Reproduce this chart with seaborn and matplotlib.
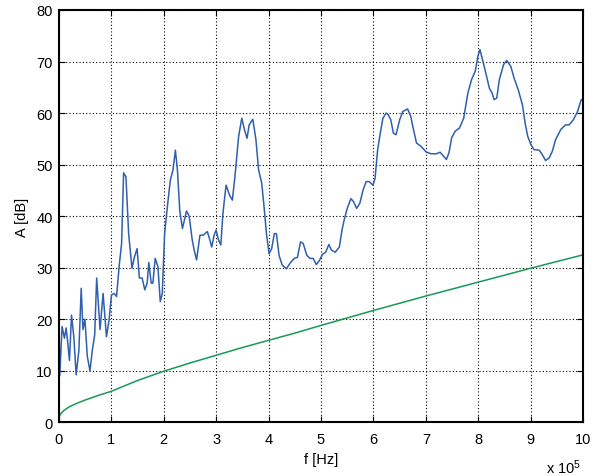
import numpy as np
import pandas as pd
import matplotlib
matplotlib.use("Agg")
import matplotlib.pyplot as plt
import seaborn as sns

# spectrum (blue), x in units of 1e5 Hz
spec_f = [0.0, 0.02, 0.064, 0.109, 0.141, 0.167, 0.205, 0.244, 0.288, 0.333,
          0.385, 0.429, 0.462, 0.5, 0.545, 0.596, 0.641, 0.686, 0.724, 0.788,
          0.846, 0.91, 0.962, 1.006, 1.058, 1.103, 1.154, 1.199, 1.237, 1.282,
          1.333, 1.397, 1.442, 1.494, 1.538, 1.59, 1.641, 1.686, 1.718, 1.763,
          1.795, 1.84, 1.891, 1.936, 1.974, 2.019, 2.071, 2.128, 2.179, 2.224,
          2.263, 2.308, 2.359, 2.436, 2.487, 2.545, 2.583, 2.628, 2.692, 2.756,
          2.833, 2.872, 2.917, 2.962, 3.0, 3.045, 3.09,
          3.13, 3.19, 3.26, 3.31, 3.36, 3.43, 3.49, 3.54, 3.59, 3.63,
          3.70, 3.76, 3.81, 3.87, 3.92, 3.96, 4.01, 4.06, 4.11, 4.15,
          4.20, 4.26, 4.34, 4.42, 4.49, 4.55, 4.61, 4.66, 4.73, 4.79,
          4.85, 4.91, 4.97, 5.03, 5.09, 5.15, 5.20, 5.27, 5.35, 5.40,
          5.44, 5.50, 5.57, 5.62, 5.68, 5.74, 5.80, 5.86, 5.92, 5.99,
          6.03, 6.08, 6.13, 6.18, 6.24, 6.28, 6.33, 6.38, 6.43,
          6.50, 6.56, 6.65, 6.71, 6.75, 6.82, 6.91, 7.01, 7.10, 7.20,
          7.27, 7.34, 7.39, 7.44, 7.49, 7.56, 7.64, 7.72, 7.80, 7.87,
          7.94, 7.99, 8.03, 8.08, 8.15, 8.21, 8.26, 8.30, 8.35, 8.40,
          8.48, 8.54, 8.62, 8.68, 8.76, 8.84, 8.89, 8.94, 9.00, 9.06,
          9.16, 9.22, 9.28, 9.35, 9.41, 9.47, 9.57, 9.66, 9.73, 9.81,
          9.89, 9.96, 10.0]
spec_a = [23, 9, 18.6, 16.3, 18.3, 16, 12, 20.8, 16.6, 9.2,
          14, 26, 18, 20, 12.8, 10, 14, 17, 28, 18,
          25, 16.6, 20, 24.7, 25, 24.4, 30.5, 34.7, 48.4, 47.6,
          36.6, 29.9, 32, 33.7, 28, 28, 25.7, 27, 31, 27,
          27, 31.8, 30.2, 23.4, 25, 36.6, 41.8, 47, 49, 52.8,
          49, 41, 37.6, 41, 40, 35.4, 33.4, 31.5, 36.3, 36.3,
          37, 35.7, 34, 36.3, 37.3, 35.4, 34.4,
          40.5, 46, 44, 43.1, 47.7, 55.5, 59, 56.8, 55.1, 57.7,
          58.8, 54.8, 49, 46.4, 41.2, 36.6, 32.7, 33.7, 36.6, 36.6,
          32.4, 30.5, 29.8, 31, 31.8, 32, 35, 34.7, 32.4, 31.8,
          31.8, 30.6, 31.4, 32.6, 33, 34.5, 33.4, 33, 34, 37.3,
          39.2, 41.5, 43.4, 42.8, 41.5, 42.5, 45, 46.7, 46.7, 46,
          47.3, 52.9, 56.1, 59, 60, 59.7, 58.7, 56.1, 55.8,
          58.7, 60.3, 60.8, 59.4, 57.4, 54.2, 53.5, 52.4, 52.1, 52.1,
          52.4, 51.6, 51, 52.3, 55.2, 56.5, 57.1, 59, 63.9, 66.5,
          68.1, 71, 72.3, 70.3, 67.4, 64.8, 63.9, 62.6, 62.9, 66.5,
          69.4, 70.2, 69, 66.8, 64.5, 61.6, 58.1, 55.5, 53.9, 52.9,
          52.8, 51.9, 50.8, 51.3, 52.6, 54.8, 56.8, 57.7, 57.7, 58.7,
          60.3, 62.6, 62.7]

# threshold curve (green)
thr_f = [0.0, 0.05, 0.1, 0.2, 0.35, 0.5, 0.75, 1.0, 1.5, 2.0, 2.5, 3.0,
         3.5, 4.0, 4.5, 5.0, 6.0, 7.0, 8.0, 9.0, 10.0]
thr_a = [1.0, 1.8, 2.3, 3.0, 3.7, 4.3, 5.2, 6.0, 8.1, 9.9, 11.5, 13.0,
         14.5, 15.9, 17.3, 18.8, 21.7, 24.5, 27.2, 29.9, 32.5]

sns.set_theme(style="white")
plt.rcParams["font.family"] = ["Liberation Sans", "DejaVu Sans"]
plt.rcParams["mathtext.fontset"] = "custom"
plt.rcParams["mathtext.rm"] = "Liberation Sans"
plt.rcParams["mathtext.default"] = "regular"

fig = plt.figure(figsize=(5.96, 4.77), dpi=100)
ax = fig.add_axes([0.0985, 0.1126, 0.8802, 0.8644])

spec = pd.DataFrame({"f": spec_f, "A": spec_a})
thr = pd.DataFrame({"f": thr_f, "A": thr_a})
sns.lineplot(data=spec, x="f", y="A", ax=ax, color="#2f5fae", linewidth=1.1,
             sort=False, estimator=None)
sns.lineplot(data=thr, x="f", y="A", ax=ax, color="#169a55", linewidth=1.1,
             sort=False, estimator=None)

ax.set_xlim(0, 10)
ax.set_ylim(0, 80)
ax.set_xticks(range(0, 11))
ax.set_yticks(range(0, 81, 10))
ax.grid(True, color="black", linestyle=(0, (1, 2)), linewidth=0.8)
ax.set_axisbelow(True)
for s in ax.spines.values():
    s.set_color("black")
    s.set_linewidth(1.5)
    s.set_visible(True)
ax.tick_params(direction="in", length=4, width=0.8, color="black",
               labelsize=10.5, labelcolor="black", top=True, right=True,
               bottom=True, left=True)
ax.tick_params(axis="x", pad=7)
ax.tick_params(axis="y", pad=4.3)
ax.set_xlabel("f [Hz]", fontsize=10.5, color="black", labelpad=4.5)
ax.set_ylabel("A [dB]", fontsize=10.5, color="black", labelpad=5)
fig.text(0.916, 0.006, r"x 10$^{5}$", fontsize=10.5, color="black",
         ha="left", va="baseline")

fig.savefig("out.png", dpi=100)
